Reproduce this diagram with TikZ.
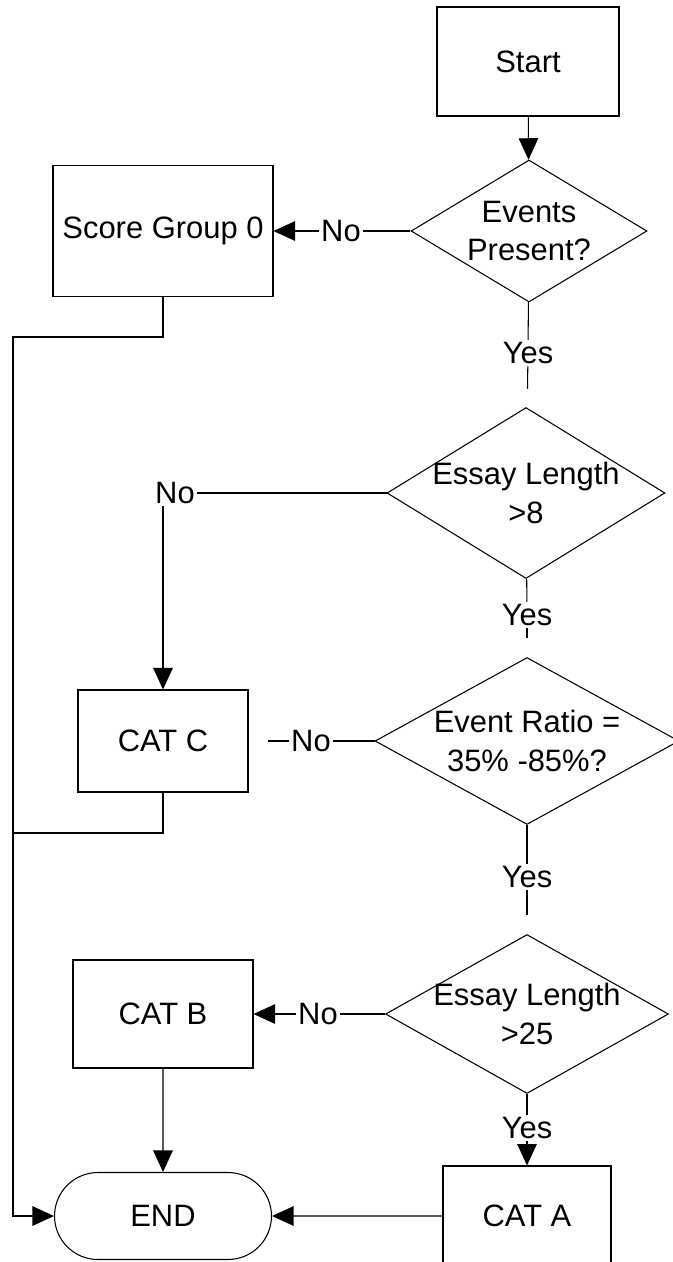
\documentclass[tikz,border=0pt]{standalone}
\usepackage{fontspec}
\setmainfont{Liberation Sans}
\usetikzlibrary{shapes.geometric,shapes.misc,arrows.meta}

\tikzset{
	box/.style={shape=rectangle, draw=black, inner sep=0pt},
	decision/.style={shape=diamond, draw=black, inner sep=0pt},
	terminal/.style={shape=rounded rectangle, draw=black, inner sep=0pt},
	answer/.style={inner sep=1pt},
	flow/.style={-{Triangle[length=0.43cm,width=0.39cm]}},
	open end/.style={shorten >=0.38cm},
}

\begin{document}
\begin{tikzpicture}[x=0.02cm, y=-0.02cm, line width=0.6pt, font=\fontsize{17.6}{21.8}\selectfont]
	\useasboundingbox (0,0) rectangle (673,1262);

	% right column
	\node[box, minimum width=3.64cm, minimum height=2.18cm] (start) at (528,61.5) {Start};
	\node[decision, minimum width=4.72cm, minimum height=2.84cm,
		label={[align=center]center:Events\\Present?}]          (events) at (529,231)  {};
	\node[decision, minimum width=5.56cm, minimum height=3.42cm,
		label={[align=center]center:Essay Length\\>8}]          (len8)   at (526,493)  {};
	\node[decision, minimum width=6.08cm, minimum height=3.34cm,
		label={[align=center]center:Event Ratio =\\35\% -85\%?}] (ratio)  at (527,741)  {};
	\node[decision, minimum width=5.66cm, minimum height=3.18cm,
		label={[align=center]center:Essay Length\\>25}]         (len25)  at (527,1014) {};
	\node[box, minimum width=3.36cm, minimum height=2.0cm]  (cata)   at (527,1216) {CAT A};

	% left column
	\node[box, minimum width=4.4cm, minimum height=2.62cm]  (sg0)    at (163,231)  {Score Group 0};
	\node[box, minimum width=3.4cm, minimum height=2.04cm]  (catc)   at (163,741)  {CAT C};
	\node[box, minimum width=3.6cm, minimum height=2.16cm]  (catb)   at (163,1014) {CAT B};
	\node[terminal, minimum width=4.34cm, minimum height=1.74cm] (finish) at (163,1216) {END};

	% answers
	\node[answer] (no1)  at (341,231)  {No};
	\node[answer] (no2)  at (175,493)  {No};
	\node[answer] (no3)  at (311,741)  {No};
	\node[answer] (no4)  at (318,1014) {No};
	\node[answer] (yes1) at (528,353)  {Yes};
	\node[answer] (yes2) at (527,615)  {Yes};
	\node[answer] (yes3) at (527,877)  {Yes};
	\node[answer] (yes4) at (527,1128) {Yes};

	\coordinate (bustop) at (13,337);
	\coordinate (busmid) at (13,833);

	\draw[flow] (start) -- (events);
	\draw (events.west) -- (no1);
	\draw[flow] (no1) -- (sg0);
	\draw (events) -- (yes1);
	\draw[open end] (yes1) -- (len8);

	\draw (len8.west) -- (no2);
	\draw[flow] (no2.south -| catc.north) -- (catc.north);
	\draw (len8) -- (yes2);
	\draw[open end] (yes2) -- (ratio);

	\draw (ratio.west) -- (no3);
	\draw[open end] (no3) -- (catc);
	\draw (ratio) -- (yes3);
	\draw[open end] (yes3) -- (len25);

	\draw (len25.west) -- (no4);
	\draw[flow] (no4) -- (catb);
	\draw (len25) -- (yes4);
	\draw[flow] (yes4) -- (cata);

	\draw[flow] (catb) -- (finish);
	\draw[flow] (cata) -- (finish);
	\draw[flow] (sg0.south) |- (bustop) |- (finish.west);
	\draw (catc.south) |- (busmid);
\end{tikzpicture}
\end{document}
